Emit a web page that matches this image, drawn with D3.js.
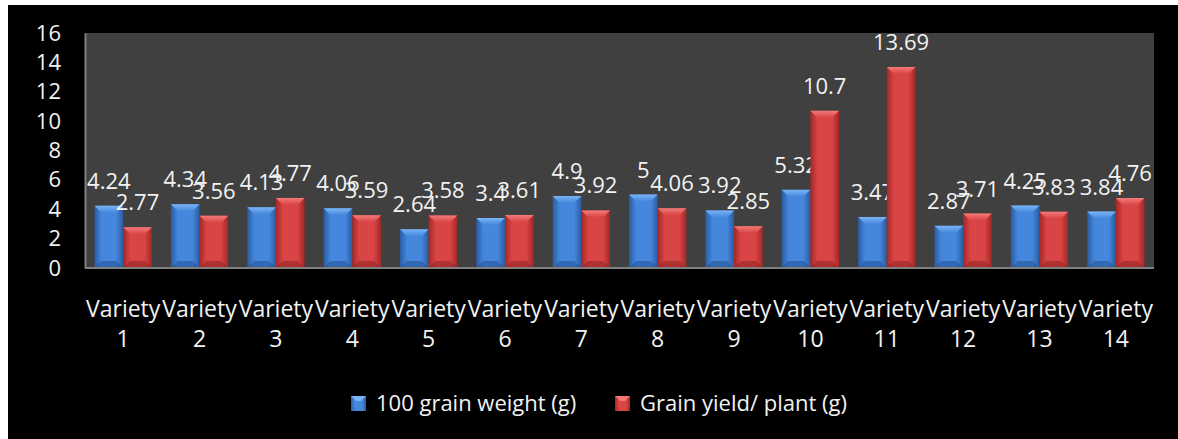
<!DOCTYPE html>
<html>
<head>
<meta charset="utf-8">
<script src="https://cdn.jsdelivr.net/npm/d3@7"></script>
<style>
  html, body { margin: 0; padding: 0; background: #fff; }
  svg { display: block; }
  text { font-family: "Open Sans", "DejaVu Sans", sans-serif; fill: #f2f2f2; }
</style>
</head>
<body>
<div id="chart"></div>
<script>
const categories = ["Variety 1", "Variety 2", "Variety 3", "Variety 4", "Variety 5", "Variety 6", "Variety 7",
  "Variety 8", "Variety 9", "Variety 10", "Variety 11", "Variety 12", "Variety 13", "Variety 14"];
const seriesNames = ["100 grain weight (g)", "Grain yield/ plant (g)"];
const grainWeight = [4.24, 4.34, 4.13, 4.06, 2.64, 3.4, 4.9, 5, 3.92, 5.32, 3.47, 2.87, 4.25, 3.84];
const grainYield = [2.77, 3.56, 4.77, 3.59, 3.58, 3.61, 3.92, 4.06, 2.85, 10.7, 13.69, 3.71, 3.83, 4.76];
const yTicks = [0, 2, 4, 6, 8, 10, 12, 14, 16];

function draw() {
  const W = 1178, H = 439;
  const plot = { left: 85, right: 1154, top: 33, bottom: 268 };

  const svg = d3.select("#chart").append("svg")
    .attr("width", W)
    .attr("height", H);

  // colours: [edge, centre, highlight, shadow]
  const palette = [
    { edge: "#2b5ca3", mid: "#4487dc", light: "#7ab4f5", dark: "#24508f" },
    { edge: "#a32828", mid: "#d94444", light: "#f47a7a", dark: "#8e2222" }
  ];

  const defs = svg.append("defs");
  palette.forEach((p, i) => {
    const g = defs.append("linearGradient").attr("id", "body" + i)
      .attr("x1", 0).attr("x2", 1).attr("y1", 0).attr("y2", 0);
    g.append("stop").attr("offset", "0%").attr("stop-color", p.edge);
    g.append("stop").attr("offset", "25%").attr("stop-color", p.mid);
    g.append("stop").attr("offset", "75%").attr("stop-color", p.mid);
    g.append("stop").attr("offset", "100%").attr("stop-color", p.edge);
    const t = defs.append("linearGradient").attr("id", "top" + i)
      .attr("x1", 0).attr("x2", 0).attr("y1", 0).attr("y2", 1);
    t.append("stop").attr("offset", "0%").attr("stop-color", p.light);
    t.append("stop").attr("offset", "100%").attr("stop-color", p.mid);
  });

  // black chart area
  svg.append("rect")
    .attr("x", 8).attr("y", 5)
    .attr("width", W - 8).attr("height", H - 5)
    .attr("fill", "#000");

  // plot area
  svg.append("rect")
    .attr("x", plot.left).attr("y", plot.top)
    .attr("width", plot.right - plot.left).attr("height", plot.bottom - plot.top)
    .attr("fill", "#404040");

  const x0 = d3.scaleBand()
    .domain(categories)
    .range([plot.left, plot.right])
    .paddingInner(0.25)
    .paddingOuter(0.125);

  const x1 = d3.scaleBand()
    .domain(seriesNames)
    .range([0, x0.bandwidth()]);

  const y = d3.scaleLinear()
    .domain([0, 16])
    .range([plot.bottom, plot.top]);

  const rows = categories.map((c, i) => ({
    category: c,
    values: [grainWeight[i], grainYield[i]]
  }));

  const groups = svg.append("g").selectAll("g")
    .data(rows)
    .join("g")
    .attr("transform", d => `translate(${x0(d.category)},0)`);

  const bars = groups.selectAll("g.bar")
    .data(d => d.values.map((v, s) => ({ v, s })))
    .join("g")
    .attr("class", "bar");

  const bw = x1.bandwidth();
  const bev = 7;

  bars.append("rect")
    .attr("x", d => x1(seriesNames[d.s]))
    .attr("y", d => y(d.v))
    .attr("width", bw)
    .attr("height", d => y(0) - y(d.v))
    .attr("fill", d => `url(#body${d.s})`);

  // top bevel
  bars.append("path")
    .attr("d", d => {
      const bx = x1(seriesNames[d.s]), by = y(d.v);
      return `M${bx},${by}H${bx + bw}L${bx + bw - bev},${by + bev}H${bx + bev}Z`;
    })
    .attr("fill", d => `url(#top${d.s})`);

  // bottom bevel
  bars.append("path")
    .attr("d", d => {
      const bx = x1(seriesNames[d.s]), by = y(0);
      return `M${bx},${by}H${bx + bw}L${bx + bw - bev},${by - bev}H${bx + bev}Z`;
    })
    .attr("fill", d => palette[d.s].dark)
    .attr("opacity", 0.55);

  // data labels
  bars.append("text")
    .attr("x", d => x1(seriesNames[d.s]) + bw / 2)
    .attr("y", d => y(d.v) - 17)
    .attr("text-anchor", "middle")
    .style("font-size", "22px")
    .text(d => d.v);

  // y axis
  const yAxis = svg.append("g")
    .attr("transform", `translate(${plot.left},0)`)
    .call(d3.axisLeft(y).tickValues(yTicks).tickSize(0).tickPadding(24));
  yAxis.select(".domain").attr("stroke", "#808080").attr("stroke-width", 2);
  yAxis.selectAll(".tick text")
    .attr("fill", "#f2f2f2")
    .style("font-size", "22px")
    .style("font-family", "'Open Sans', sans-serif");

  // x axis
  const xAxis = svg.append("g")
    .attr("transform", `translate(0,${plot.bottom})`)
    .call(d3.axisBottom(x0).tickSize(0).tickSizeOuter(0).tickFormat(""));
  xAxis.select(".domain")
    .attr("d", `M${plot.left},0H${plot.right}`)
    .attr("stroke", "#808080").attr("stroke-width", 2);
  xAxis.selectAll(".tick text").remove();
  xAxis.selectAll(".tick").each(function(d) {
    const parts = d.split(" ");
    const t = d3.select(this).append("text")
      .attr("text-anchor", "middle")
      .attr("fill", "#f2f2f2")
      .style("font-size", "23px")
      .style("font-family", "'Open Sans', sans-serif");
    t.append("tspan").attr("x", 0).attr("y", 49).text(parts[0]);
    t.append("tspan").attr("x", 0).attr("y", 79).text(parts[1]);
  });

  // legend
  const legendX = [351, 615];
  const legend = svg.append("g").selectAll("g")
    .data(seriesNames)
    .join("g")
    .attr("transform", (d, i) => `translate(${legendX[i]},396)`);
  legend.append("rect")
    .attr("width", 15).attr("height", 15)
    .attr("fill", (d, i) => `url(#body${i})`);
  legend.append("path")
    .attr("d", "M0,0H15L10,5H5Z")
    .attr("fill", (d, i) => palette[i].light);
  legend.append("text")
    .attr("x", 25)
    .attr("y", 15)
    .style("font-size", "22px")
    .text(d => d);
}

draw();
</script>
</body>
</html>
